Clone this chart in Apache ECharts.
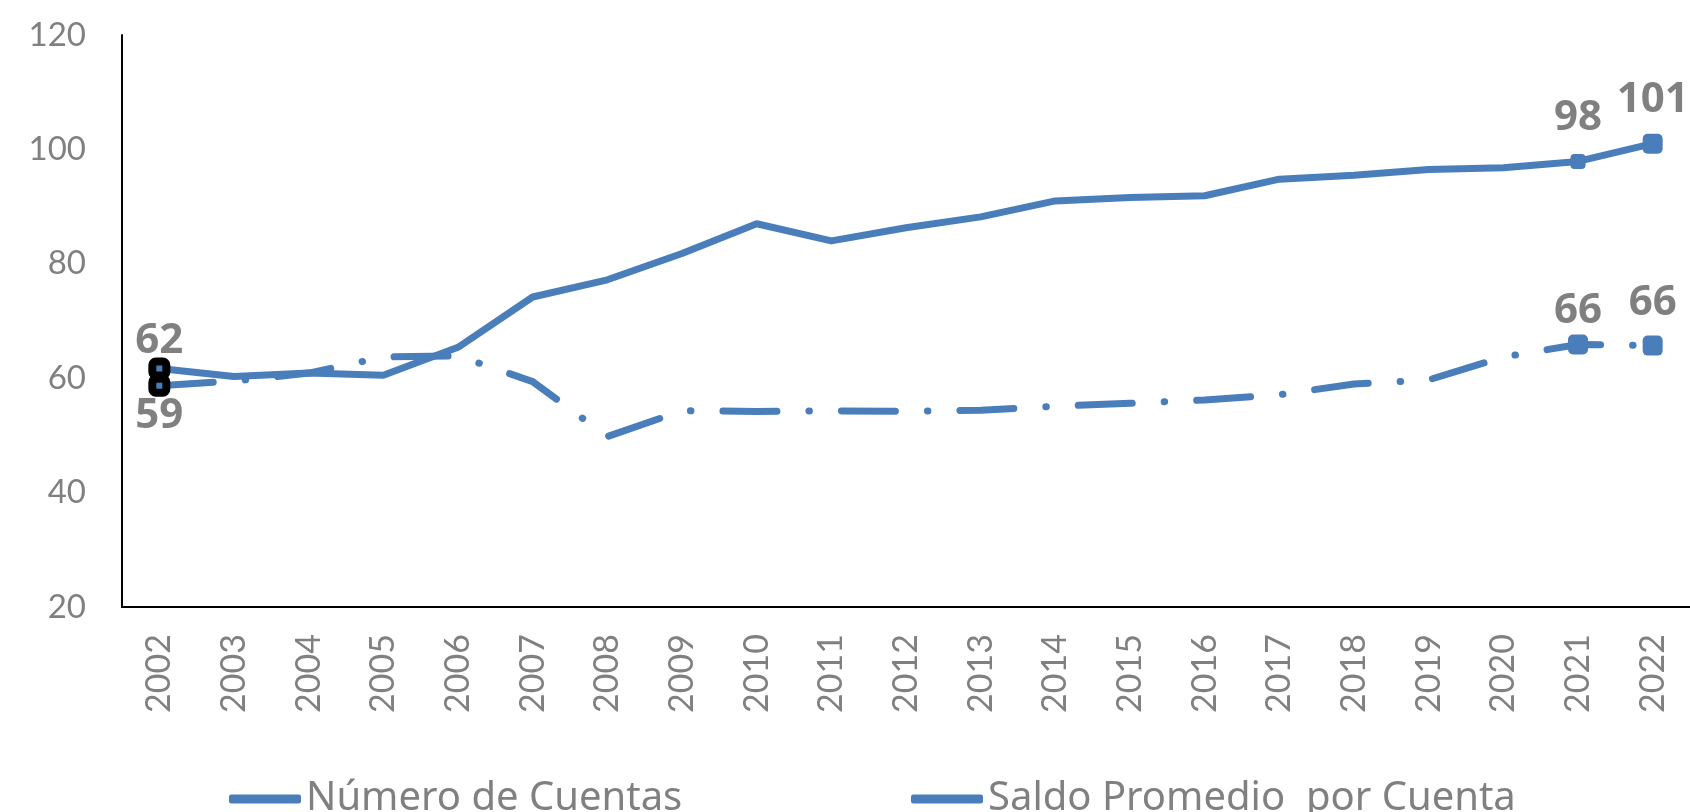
<!DOCTYPE html>
<html>
<head>
<meta charset="utf-8">
<style>html,body{margin:0;padding:0;background:#fff}#c{width:1690px;height:812px}</style>
<script src="https://cdn.jsdelivr.net/npm/echarts@6/dist/echarts.min.js"></script>
</head>
<body>
<div id="c"></div>
<script>
const years = ['2002','2003','2004','2005','2006','2007','2008','2009','2010','2011','2012','2013','2014','2015','2016','2017','2018','2019','2020','2021','2022'];
const numeroCuentas = [61.7,60.3,60.9,60.5,65.4,74.2,77.2,81.8,87.0,84.0,86.3,88.2,91.0,91.6,91.9,94.8,95.5,96.5,96.8,97.9,101.0];
const saldoPromedio = [58.7,59.5,60.9,63.7,63.9,59.4,49.8,54.3,54.2,54.3,54.2,54.4,55.1,55.6,56.2,57.1,59.0,59.7,63.7,65.9,65.7];
const yTicks = {min:20, max:120, interval:20};
const labeled = [0,19,20];

const blue = '#4a7ebb';
const grey = '#808080';
const lblFont = '"Noto Sans", sans-serif';

function buildData(vals, pos, dist, offs, sizes){
  return vals.map((v,i)=>{
    if(!labeled.includes(i)) return {value:v, symbol:'none'};
    const d = {value:v, symbol:'roundRect', symbolSize: sizes[i],
      label:{show:true, position: i===0?pos:'top', distance: dist[i], offset: offs[i]||[0,0],
        formatter:p=>Math.round(p.value), color:grey, fontSize:42, fontWeight:'bold', fontFamily:lblFont}};
    if(i===0){ d.itemStyle={color:blue, borderColor:'#000', borderWidth:8, borderRadius:4}; }
    else { d.itemStyle={color:blue}; }
    return d;
  });
}

const chart = echarts.init(document.getElementById('c'), null, {renderer:'canvas'});
chart.setOption({
  animation:false,
  grid:{left:122, right:0, top:35, bottom:205, containLabel:false},
  legend:[
    {data:['Número de Cuentas'], left:224, top:774, itemWidth:72, itemHeight:9, icon:'roundRect',
     textStyle:{color:grey, fontSize:40, fontFamily:'"Noto Sans", sans-serif', padding:[0,0,0,0]}},
    {data:['Saldo Promedio  por Cuenta'], left:906, top:774, itemWidth:72, itemHeight:9, icon:'roundRect',
     textStyle:{color:grey, fontSize:40, fontFamily:'"Noto Sans", sans-serif', padding:[0,0,0,0]}}
  ],
  xAxis:{type:'category', data:years, boundaryGap:true,
    axisLine:{lineStyle:{color:'#000', width:2}}, axisTick:{show:false},
    axisLabel:{rotate:90, margin:27, color:grey, fontSize:34, fontFamily:'Lato, sans-serif', interval:0}},
  yAxis:{type:'value', min:yTicks.min, max:yTicks.max, interval:yTicks.interval,
    axisLine:{show:true, lineStyle:{color:'#000', width:2}}, axisTick:{show:false}, splitLine:{show:false},
    axisLabel:{margin:36, color:grey, fontSize:33, fontFamily:'Lato, sans-serif'}},
  series:[
    {name:'Número de Cuentas', type:'line',
     data:buildData(numeroCuentas,'top',{0:6,19:15,20:13},{0:[0,11]},{0:14,19:15,20:20}),
     lineStyle:{color:blue, width:7, cap:'round', join:'round'}, itemStyle:{color:blue}, z:3},
    {name:'Saldo Promedio  por Cuenta', type:'line',
     data:buildData(saldoPromedio,'bottom',{0:6,19:2,20:12},{0:[0,-8]},{0:14,19:20,20:20}),
     lineStyle:{color:blue, width:7, type:[54,32,0.5,32], cap:'round', join:'round'}, itemStyle:{color:blue}, z:2}
  ]
});
</script>
</body>
</html>
